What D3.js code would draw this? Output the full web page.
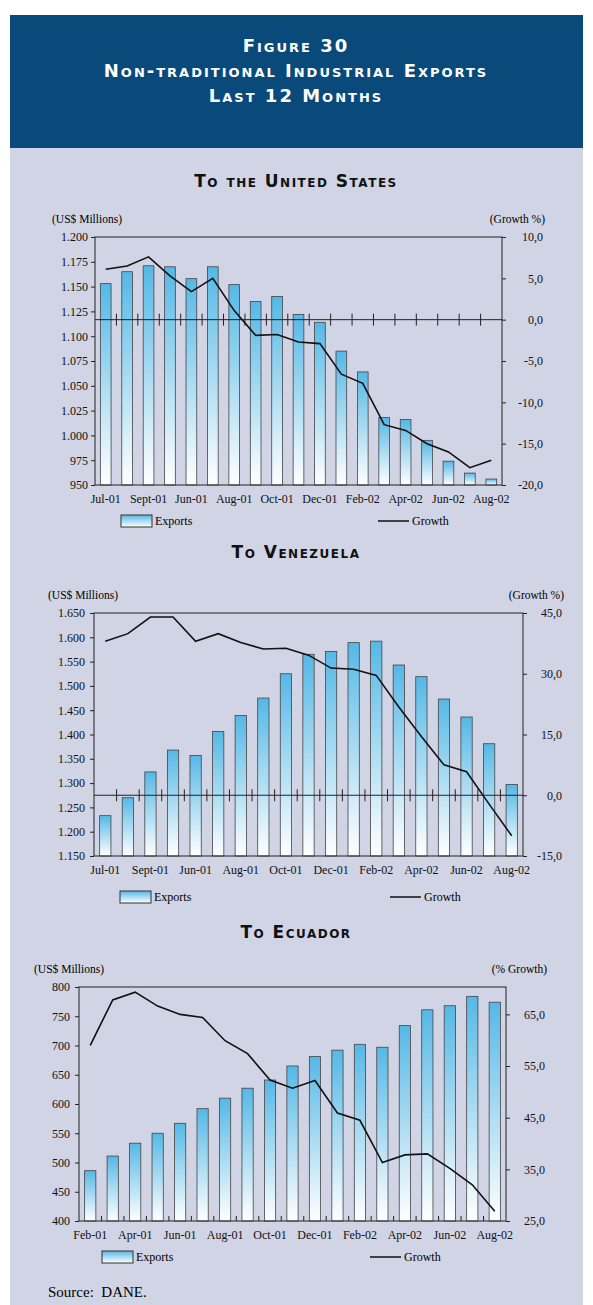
<!DOCTYPE html>
<html><head><meta charset="utf-8">
<script src="https://cdn.jsdelivr.net/npm/d3@7"></script>
<style>body{margin:0;background:#fff}</style>
</head><body>
<svg id="fig" width="593" height="1305"></svg>
<script>
// data
const usLabels = ["Jul-01","Sept-01","Jun-01","Aug-01","Oct-01","Dec-01","Feb-02","Apr-02","Jun-02","Aug-02"];
const usExports = [1153,1165,1171,1170,1158,1170,1152,1135,1140,1122,1114,1085,1064,1018,1016,995,974,962,956];
const usGrowth = [6.1,6.5,7.6,5.3,3.4,5.0,1.1,-1.9,-1.8,-2.7,-2.9,-6.6,-7.7,-12.7,-13.4,-15.0,-16.0,-17.9,-17.0];

const veLabels = ["Jul-01","Sept-01","Jun-01","Aug-01","Oct-01","Dec-01","Feb-02","Apr-02","Jun-02","Aug-02"];
const veExports = [1233,1270,1323,1368,1357,1406,1439,1475,1525,1565,1571,1589,1592,1543,1519,1473,1436,1381,1297];
const veGrowth = [38.0,39.9,44.0,44.0,38.0,39.9,37.7,36.1,36.3,34.6,31.4,31.1,29.6,21.8,14.5,7.5,5.8,-2.2,-10.0];

const ecLabels = ["Feb-01","Apr-01","Jun-01","Aug-01","Oct-01","Dec-01","Feb-02","Apr-02","Jun-02","Aug-02"];
const ecExports = [486,511,533,550,567,592,610,627,641,665,681,692,702,697,734,761,768,784,774];
const ecGrowth = [59.0,67.8,69.3,66.6,65.0,64.4,59.9,57.4,52.3,50.7,52.2,45.9,44.5,36.3,37.8,38.0,35.2,32.0,26.9];

const svg = d3.select("#fig");
const serif = "Liberation Serif, Times New Roman, serif";

const defs = svg.append("defs");
const grad = defs.append("linearGradient").attr("id","barGrad")
  .attr("x1",0).attr("y1",0).attr("x2",0).attr("y2",1);
grad.append("stop").attr("offset","0%").attr("stop-color","#55b8e6");
grad.append("stop").attr("offset","100%").attr("stop-color","#ffffff");

// background
svg.append("rect").attr("x",10).attr("y",15).attr("width",573).attr("height",1290).attr("fill","#d0d4e5");
svg.append("rect").attr("x",10).attr("y",15).attr("width",573).attr("height",133).attr("fill","#0a4a7b");

const headTxt = ["Figure 30","Non-traditional Industrial Exports","Last 12 Months"];
headTxt.forEach((t,i) => svg.append("text").attr("x",296).attr("y",52+i*25)
  .attr("text-anchor","middle").attr("fill","#fff").attr("font-family","DejaVu Sans")
  .attr("font-weight","bold").attr("font-size",18).attr("letter-spacing",2)
  .style("font-variant","small-caps").text(t));

function section(title, ty) {
  svg.append("text").attr("x",296).attr("y",ty).attr("text-anchor","middle")
    .attr("font-family","DejaVu Sans").attr("font-weight","bold").attr("font-size",17)
    .attr("letter-spacing",1.5).style("font-variant","small-caps").attr("fill","#111").text(title);
}

function chart(o) {
  const n = o.exports.length;
  const g = svg.append("g");
  const x = d3.scaleBand().domain(d3.range(n)).range([o.x0,o.x1]).paddingInner(0.5).paddingOuter(0.25);
  const yl = d3.scaleLinear().domain(o.ld).range([o.y1,o.y0]);
  const yr = d3.scaleLinear().domain(o.rd).range([o.y1,o.y0]);

  g.selectAll("rect.bar").data(o.exports).join("rect").attr("class","bar")
    .attr("x",(d,i)=>x(i)).attr("width",x.bandwidth())
    .attr("y",d=>yl(d)).attr("height",d=>o.y1-yl(d))
    .attr("fill","url(#barGrad)").attr("stroke","#444").attr("stroke-width",0.8);

  // frame
  g.append("rect").attr("x",o.x0).attr("y",o.y0).attr("width",o.x1-o.x0).attr("height",o.y1-o.y0)
    .attr("fill","none").attr("stroke","#222").attr("stroke-width",1);

  const step = x.step();
  const bounds = d3.range(1,n).map(i => x(i) - step*0.25);
  if (o.zero) {
    const zy = yr(0);
    g.append("line").attr("x1",o.x0).attr("x2",o.x1).attr("y1",zy).attr("y2",zy).attr("stroke","#222");
    g.selectAll("line.zt").data(bounds).join("line").attr("class","zt")
      .attr("x1",d=>d).attr("x2",d=>d).attr("y1",zy-6).attr("y2",zy+6).attr("stroke","#222");
  } else {
    g.selectAll("line.bt").data(bounds).join("line").attr("class","bt")
      .attr("x1",d=>d).attr("x2",d=>d).attr("y1",o.y1-5).attr("y2",o.y1).attr("stroke","#222");
  }

  const la = d3.axisLeft(yl).tickValues(o.lt).tickSize(4).tickFormat(d => d3.format(",")(d).replace(/,/g,"."));
  const lg = g.append("g").attr("transform",`translate(${o.x0},0)`).call(la);
  const ra = d3.axisRight(yr).tickValues(o.rt).tickSize(4).tickFormat(d => d.toFixed(1).replace(".",","));
  const rg = g.append("g").attr("transform",`translate(${o.x1},0)`).call(ra);
  [lg,rg].forEach(a => { a.select(".domain").remove();
    a.selectAll("text").attr("font-family",serif).attr("font-size",12).attr("fill","#111");
    a.selectAll("line").attr("stroke","#222"); });
  lg.selectAll("text").attr("x",-o.lpad);
  rg.selectAll("text").attr("x",o.rx-o.x1).attr("text-anchor","end");

  const line = d3.line().x((d,i)=>x(i)+x.bandwidth()/2).y(d=>yr(d));
  g.append("path").datum(o.growth).attr("d",line).attr("fill","none").attr("stroke","#111").attr("stroke-width",1.6);

  g.selectAll("text.xl").data(o.labels).join("text").attr("class","xl")
    .attr("x",(d,i)=>x(i*2)+x.bandwidth()/2).attr("y",o.y1+18).attr("text-anchor","middle")
    .attr("font-family",serif).attr("font-size",12).attr("fill","#111").text(d=>d);

  g.append("text").attr("x",o.ux).attr("y",o.y0-14).attr("font-family",serif).attr("font-size",11.5).text("(US$ Millions)");
  g.append("text").attr("x",o.rx+2).attr("y",o.y0-14).attr("text-anchor","end").attr("font-family",serif).attr("font-size",11.5).text(o.rtitle);

  const ly = o.ly;
  g.append("rect").attr("x",o.lx).attr("y",ly-6).attr("width",31).attr("height",12)
    .attr("fill","url(#barGrad)").attr("stroke","#333");
  g.append("text").attr("x",o.lx+34).attr("y",ly+4).attr("font-family",serif).attr("font-size",12).text("Exports");
  g.append("line").attr("x1",o.gx).attr("x2",o.gx+31).attr("y1",ly).attr("y2",ly).attr("stroke","#111").attr("stroke-width",1.5);
  g.append("text").attr("x",o.gx+34).attr("y",ly+4).attr("font-family",serif).attr("font-size",12).text("Growth");
}

section("To the United States",187);
chart({exports:usExports,growth:usGrowth,labels:usLabels,x0:95,x1:502,y0:237,y1:485,
  ld:[950,1200],rd:[-20,10],lt:d3.range(950,1201,25),rt:d3.range(-20,11,5),zero:true,lpad:7,
  ux:52,rx:543,rtitle:"(Growth %)",ly:521,lx:121,gx:378});

section("To Venezuela",558);
chart({exports:veExports,growth:veGrowth,labels:veLabels,x0:94,x1:523,y0:613,y1:856,
  ld:[1150,1650],rd:[-15,45],lt:d3.range(1150,1651,50),rt:d3.range(-15,46,15),zero:true,lpad:9,
  ux:48,rx:562,rtitle:"(Growth %)",ly:897,lx:120,gx:390});

section("To Ecuador",938);
chart({exports:ecExports,growth:ecGrowth,labels:ecLabels,x0:79,x1:506,y0:987,y1:1221,
  ld:[400,800],rd:[25,70.3],lt:d3.range(400,801,50),rt:d3.range(25,66,10),zero:false,lpad:9,
  ux:34,rx:545,rtitle:"(% Growth)",ly:1257,lx:102,gx:370});

svg.append("text").attr("x",48).attr("y",1297).attr("font-family",serif).attr("font-size",15).attr("xml:space","preserve").text("Source:  DANE.");
</script>
</body></html>
